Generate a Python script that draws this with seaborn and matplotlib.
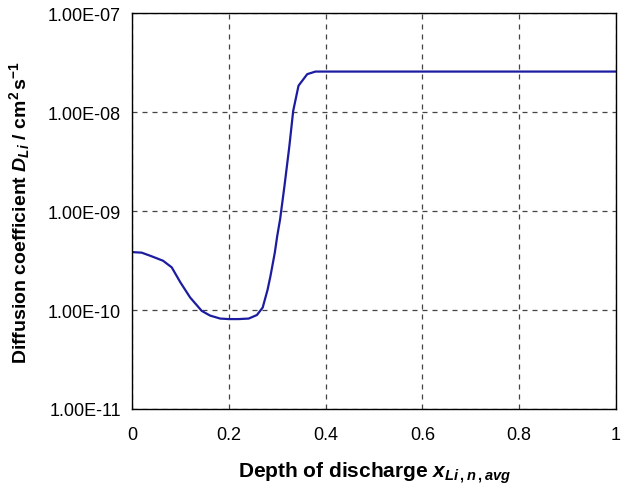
import matplotlib
matplotlib.use("Agg")
import matplotlib.pyplot as plt
import seaborn as sns
import pandas as pd
from matplotlib.ticker import FixedLocator, FixedFormatter

# Data
depth = [0.0, 0.02, 0.04, 0.064, 0.082, 0.10, 0.12, 0.144, 0.161, 0.182, 0.20, 0.22, 0.241, 0.258,
         0.27, 0.28, 0.286, 0.295, 0.30, 0.306, 0.315, 0.325, 0.333, 0.344, 0.362, 0.379, 0.40,
         0.6, 0.8, 1.0]
diff_coef = [3.85e-10, 3.8e-10, 3.5e-10, 3.15e-10, 2.7e-10, 1.9e-10, 1.34e-10, 9.8e-11, 8.8e-11,
             8.2e-11, 8.1e-11, 8.1e-11, 8.2e-11, 8.9e-11, 1.06e-10, 1.6e-10, 2.2e-10, 3.8e-10,
             5.6e-10, 8.3e-10, 1.8e-09, 4.5e-09, 1.03e-08, 1.85e-08, 2.42e-08, 2.57e-08, 2.57e-08,
             2.57e-08, 2.57e-08, 2.57e-08]
x_ticks = [0, 0.2, 0.4, 0.6, 0.8, 1.0]
x_tick_labels = ["0", "0.2", "0.4", "0.6", "0.8", "1"]
y_ticks = [1e-11, 1e-10, 1e-9, 1e-8, 1e-7]
y_tick_labels = ["1.00E-11", "1.00E-10", "1.00E-09", "1.00E-08", "1.00E-07"]

sns.set_style("white")
plt.rcParams['font.family'] = ['Liberation Sans', 'DejaVu Sans']
plt.rcParams['mathtext.fontset'] = 'custom'
plt.rcParams['mathtext.rm'] = 'Liberation Sans:bold'
plt.rcParams['mathtext.it'] = 'Liberation Sans:italic:bold'
plt.rcParams['mathtext.bf'] = 'Liberation Sans:bold'
plt.rcParams['text.color'] = 'black'
plt.rcParams['axes.labelcolor'] = 'black'

fig = plt.figure(figsize=(6.21, 4.89), dpi=100)
ax = fig.add_axes([0.2126, 0.1616, 0.7794, 0.8094])

df = pd.DataFrame({"depth": depth, "D": diff_coef})
sns.lineplot(data=df, x="depth", y="D", ax=ax, color="#1c1ca0", linewidth=1.6)

ax.set_yscale("log")
ax.set_xlim(0, 1)
ax.set_ylim(1e-11, 1e-7)
ax.yaxis.set_major_locator(FixedLocator(y_ticks))
ax.yaxis.set_major_formatter(FixedFormatter(y_tick_labels))
ax.yaxis.set_minor_locator(FixedLocator([]))
ax.set_xticks(x_ticks)
ax.set_xticklabels(x_tick_labels)

ax.grid(True, which="major", color="#444444", linestyle=(0, (4, 4)), linewidth=0.9)
for s in ax.spines.values():
    s.set_color("black")
    s.set_linewidth(1.0)
ax.tick_params(axis="both", which="major", direction="in", length=4, labelsize=13,
               colors="black", labelcolor="black")
ax.tick_params(axis="x", pad=12)
ax.tick_params(axis="y", pad=8)

ax.set_xlabel(r"Depth of discharge $x_{Li\,,n\,,avg}$", fontsize=15, fontweight="bold",
              labelpad=12, color="black")
ax.set_ylabel(r"Diffusion coefficient $D_{Li}$ / cm$^2\!$ s$^{-1}$", fontsize=14,
              fontweight="bold", labelpad=11, color="black")

fig.savefig("out.png", dpi=100)
